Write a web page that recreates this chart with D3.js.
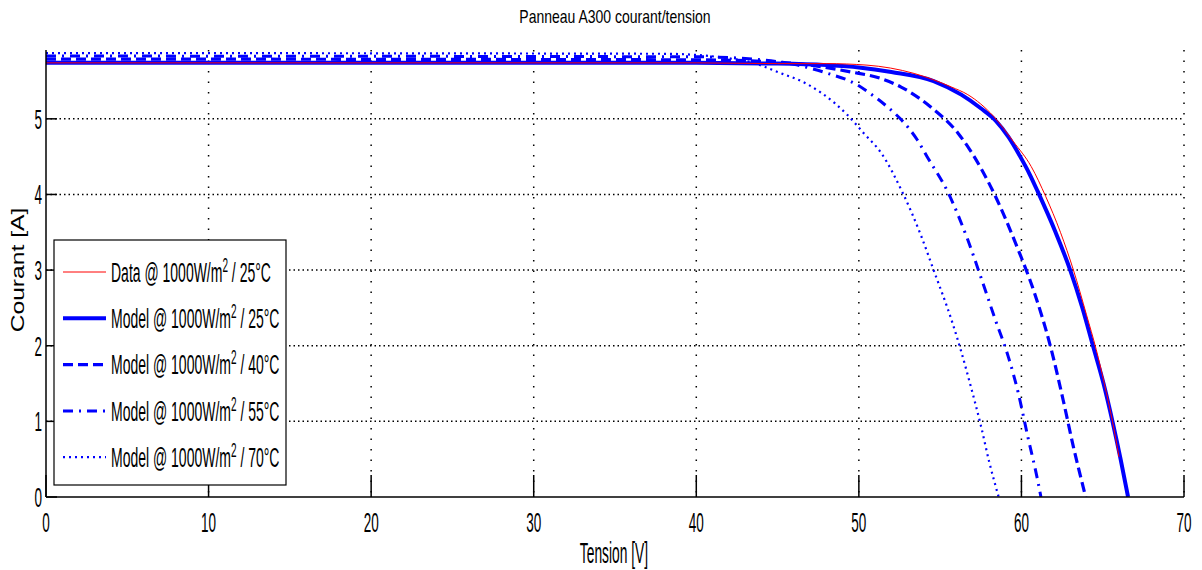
<!DOCTYPE html>
<html>
<head>
<meta charset="utf-8">
<script src="https://cdn.jsdelivr.net/npm/d3@7"></script>
<style>
  body { margin: 0; background: #fff; }
  text { font-family: "Liberation Sans", Arial, sans-serif; fill: #000; }
</style>
</head>
<body>
<div id="chart"></div>
<script>
// I-V points: [tension V, courant A]
const dataMeas25 = [[0, 5.74], [20, 5.74], [40, 5.74], [45, 5.73], [48, 5.73], [50.5, 5.71], [53.4, 5.6],
  [55.7, 5.42], [56.7, 5.32], [58.3, 5.03], [59.5, 4.7], [60.6, 4.37], [61.5, 3.97], [62.4, 3.5],
  [63.2, 3.0], [64.0, 2.41], [64.6, 1.95], [65.1, 1.5], [65.6, 1.0], [66.0, 0.53]];
const model25 = [[0, 5.74], [20, 5.74], [40, 5.74], [45, 5.73], [48, 5.71], [50, 5.68], [52, 5.62],
  [54.6, 5.5], [56.3, 5.32], [57.5, 5.14], [58.4, 4.98], [59.2, 4.76], [59.9, 4.51], [60.5, 4.27],
  [61.0, 4.04], [62.1, 3.5], [63.0, 3.0], [63.75, 2.5], [64.4, 2.0], [65.05, 1.5], [65.6, 1.0],
  [66.1, 0.5], [66.56, 0]];
const model40 = [[0, 5.79], [40, 5.78], [44, 5.76], [47, 5.71], [49.5, 5.62], [51.4, 5.53], [52.6, 5.42],
  [54.4, 5.16], [56.1, 4.81], [56.8, 4.6], [58.3, 4.02], [59.8, 3.27], [60.8, 2.7], [61.8, 1.98],
  [62.6, 1.25], [63.2, 0.66], [63.8, 0.13], [63.95, 0]];
const model55 = [[0, 5.83], [40, 5.82], [44, 5.78], [46, 5.72], [48.1, 5.6], [49.9, 5.45], [50.6, 5.35],
  [51.8, 5.15], [52.6, 4.99], [53.6, 4.72], [54.2, 4.5], [55.5, 4.02], [56.7, 3.4], [57.5, 2.91],
  [58.4, 2.34], [59.2, 1.85], [59.8, 1.38], [60.4, 0.79], [61.0, 0.22], [61.2, 0]];
const model70 = [[0, 5.87], [38, 5.86], [42, 5.8], [43.5, 5.74], [45, 5.62], [46.9, 5.45], [48.5, 5.21],
  [49.3, 5.05], [50.3, 4.81], [51.4, 4.54], [52.7, 4.02], [53.8, 3.47], [54.6, 3.0], [55.7, 2.34],
  [56.3, 1.92], [56.9, 1.45], [57.5, 0.95], [58.0, 0.48], [58.6, 0]];

const legendLabels = ['Data @ 1000W/m', 'Model @ 1000W/m', 'Model @ 1000W/m', 'Model @ 1000W/m', 'Model @ 1000W/m'];
const legendTemps = ['25°C', '25°C', '40°C', '55°C', '70°C'];
const xTicks = [0, 10, 20, 30, 40, 50, 60, 70];
const yTicks = [0, 1, 2, 3, 4, 5];

const series = [
  { data: dataMeas25, color: '#ff0000', width: 1, dash: null },
  { data: model25, color: '#0000ff', width: 4, dash: null },
  { data: model40, color: '#0000ff', width: 3.2, dash: '10,5' },
  { data: model55, color: '#0000ff', width: 3, dash: '10,6,2,6' },
  { data: model70, color: '#0000ff', width: 2.2, dash: '2,4' },
];

const width = 1202, height = 570;
const plotLeft = 46, plotRight = 1184, plotTop = 50, plotBottom = 497;

const x = d3.scaleLinear().domain([0, 70]).range([plotLeft, plotRight]);
const y = d3.scaleLinear().domain([0, 5.91]).range([plotBottom, plotTop]);

const svg = d3.select('#chart').append('svg')
  .attr('width', width)
  .attr('height', height);

svg.append('rect').attr('width', width).attr('height', height).attr('fill', '#fff');

svg.append('clipPath').attr('id', 'plot')
  .append('rect').attr('x', plotLeft).attr('y', plotTop)
  .attr('width', plotRight - plotLeft).attr('height', plotBottom - plotTop);

// dotted grid
const grid = svg.append('g').attr('stroke', '#000').attr('stroke-width', 1.5);
grid.selectAll('.gx').data(xTicks.slice(1)).join('line')
  .attr('x1', d => x(d)).attr('x2', d => x(d))
  .attr('y1', plotTop).attr('y2', plotBottom)
  .attr('stroke-dasharray', '1.5,9');
grid.selectAll('.gy').data(yTicks.slice(1)).join('line')
  .attr('x1', plotLeft).attr('x2', plotRight)
  .attr('y1', d => y(d)).attr('y2', d => y(d))
  .attr('stroke-dasharray', '1.5,3');

// curves
const line = d3.line().x(d => x(d[0])).y(d => y(d[1])).curve(d3.curveMonotoneX);
const gLines = svg.append('g').attr('clip-path', 'url(#plot)').attr('fill', 'none');
series.slice().reverse().forEach(s => {
  gLines.append('path')
    .attr('d', line(s.data))
    .attr('stroke', s.color)
    .attr('stroke-width', s.width)
    .attr('stroke-dasharray', s.dash);
});

// axes (MATLAB style: ticks inside, box off)
const axes = svg.append('g').attr('stroke', '#000').attr('stroke-width', 1.5);
axes.append('line').attr('x1', plotLeft).attr('x2', plotLeft).attr('y1', plotTop).attr('y2', plotBottom);
axes.append('line').attr('x1', plotLeft).attr('x2', plotRight).attr('y1', plotBottom).attr('y2', plotBottom);
axes.selectAll('.tx').data(xTicks).join('line')
  .attr('x1', d => x(d)).attr('x2', d => x(d))
  .attr('y1', plotBottom).attr('y2', plotBottom - 22);
axes.selectAll('.ty').data(yTicks).join('line')
  .attr('x1', plotLeft).attr('x2', plotLeft + 11)
  .attr('y1', d => y(d)).attr('y2', d => y(d));

// tick labels, tall & narrow like the stretched original
svg.selectAll('.xl').data(xTicks).join('text')
  .attr('transform', d => `translate(${x(d)},522) scale(1,2.1)`)
  .attr('text-anchor', 'middle').attr('dy', '0.35em')
  .style('font-size', '13.5px')
  .text(d => d);
svg.selectAll('.yl').data(yTicks).join('text')
  .attr('transform', d => `translate(42,${y(d)}) scale(1,2.1)`)
  .attr('text-anchor', 'end').attr('dy', '0.35em')
  .style('font-size', '13.5px')
  .text(d => d);

// title and axis labels
svg.append('text')
  .attr('transform', 'translate(615,17) scale(1,1.3)')
  .attr('text-anchor', 'middle').attr('dy', '0.35em')
  .style('font-size', '14px')
  .text('Panneau A300 courant/tension');
svg.append('text')
  .attr('transform', 'translate(614,553) scale(1,2.1)')
  .attr('text-anchor', 'middle').attr('dy', '0.35em')
  .style('font-size', '13.8px')
  .text('Tension [V]');
svg.append('text')
  .attr('transform', 'translate(18,270) scale(1,1.37) rotate(-90)')
  .attr('text-anchor', 'middle').attr('dy', '0.35em')
  .style('font-size', '18px')
  .text('Courant [A]');

// legend
const legend = svg.append('g');
legend.append('rect')
  .attr('x', 54).attr('y', 240).attr('width', 232).attr('height', 245)
  .attr('fill', '#fff').attr('stroke', '#000').attr('stroke-width', 1.2);
series.forEach((s, i) => {
  const ly = 272 + i * 46.3;
  legend.append('line')
    .attr('x1', 63).attr('x2', 106).attr('y1', ly).attr('y2', ly)
    .attr('stroke', s.color).attr('stroke-width', s.width)
    .attr('stroke-dasharray', s.dash);
  const t = legend.append('text')
    .attr('transform', `translate(111,${ly}) scale(1,2)`)
    .attr('dy', '0.35em')
    .style('font-size', '14px');
  t.append('tspan').text(legendLabels[i]);
  t.append('tspan').attr('dy', -5).style('font-size', '10px').text('2');
  t.append('tspan').attr('dy', 5).text(' / ' + legendTemps[i]);
});
</script>
</body>
</html>
